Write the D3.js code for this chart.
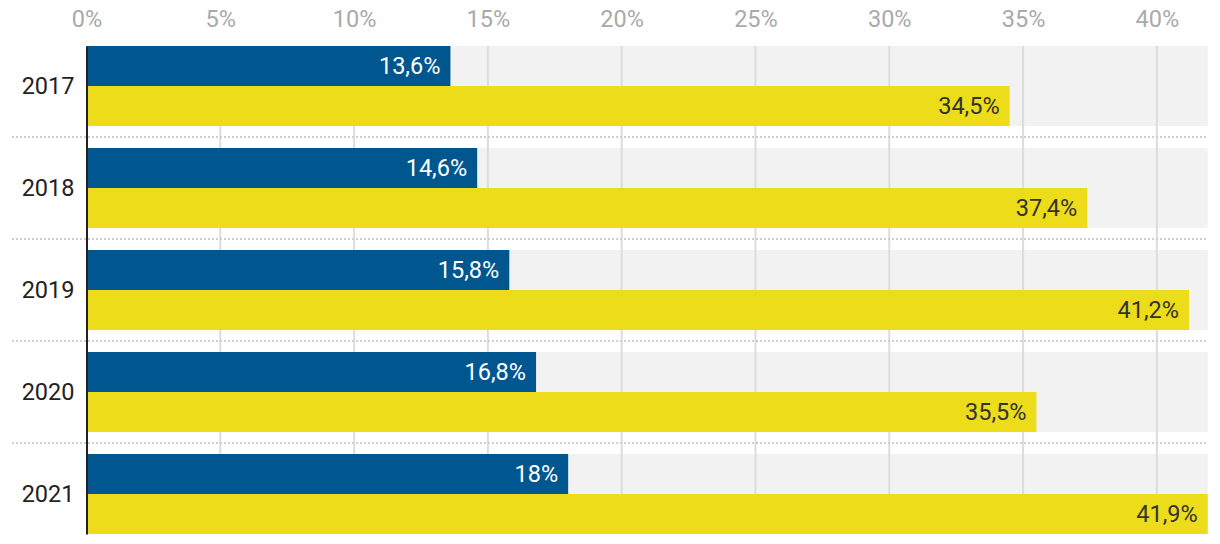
<!DOCTYPE html>
<html><head><meta charset="utf-8">
<script src="https://cdn.jsdelivr.net/npm/d3@7"></script>
<style>body{margin:0;background:#fff}svg{display:block}text{font-family:Roboto,sans-serif}</style>
</head><body>
<svg id="c" width="1220" height="544"></svg>
<script>
const years = ["2017","2018","2019","2020","2021"];
const seriesA = [13.6, 14.6, 15.8, 16.8, 18];
const seriesB = [34.5, 37.4, 41.2, 35.5, 41.9];
const ticks = [0,5,10,15,20,25,30,35,40];
const fmt = v => String(v).replace(".", ",") + "%";
const FS = 23.5;

const svg = d3.select("#c");
const x = d3.scaleLinear().domain([0, 41.9]).range([86.5, 1207.7]);
const y = d3.scaleBand().domain(years).range([46, 534]).paddingInner(22/102).paddingOuter(0);
const inner = d3.scaleBand().domain(["a","b"]).range([0, y.bandwidth()]);

svg.append("g").selectAll("rect").data(years).join("rect")
  .attr("x", x(0)).attr("y", d => y(d)).attr("width", x.range()[1]-x(0)).attr("height", y.bandwidth())
  .attr("fill", "#f2f2f2");

svg.append("g").selectAll("line").data(ticks.filter(t=>t>0)).join("line")
  .attr("x1", d => x(d)).attr("x2", d => x(d)).attr("y1", 46).attr("y2", 534)
  .attr("stroke", "#dcdcdc").attr("stroke-width", 2);

svg.append("g").selectAll("line").data(years.slice(1)).join("line")
  .attr("x1", 12).attr("x2", x.range()[1])
  .attr("y1", d => y(d) - y.step()*y.paddingInner()/2).attr("y2", d => y(d) - y.step()*y.paddingInner()/2)
  .attr("stroke", "#cfcfcf").attr("stroke-width", 2).attr("stroke-dasharray", "2,2");

const data = [];
years.forEach((yr,i) => {
  data.push({yr, k:"a", v: seriesA[i]});
  data.push({yr, k:"b", v: seriesB[i]});
});
const colors = {a:"#00568f", b:"#ecdc1a"};
const txtColors = {a:"#ffffff", b:"#333333"};

svg.append("g").selectAll("rect").data(data).join("rect")
  .attr("x", x(0)).attr("y", d => y(d.yr) + inner(d.k))
  .attr("width", d => x(d.v) - x(0)).attr("height", inner.bandwidth())
  .attr("fill", d => colors[d.k]);

svg.append("g").selectAll("text").data(data).join("text")
  .attr("x", d => x(d.v) - 10).attr("y", d => y(d.yr) + inner(d.k) + inner.bandwidth()/2)
  .attr("dy", "0.35em").attr("text-anchor", "end")
  .attr("font-size", FS).attr("fill", d => txtColors[d.k]).text(d => fmt(d.v));

const ax = svg.append("g").attr("transform", "translate(0,30)")
  .call(d3.axisTop(x).tickValues(ticks).tickFormat(d => d + "%").tickSize(0));
ax.select(".domain").remove();
ax.selectAll("text").attr("font-size", FS).attr("fill", "#aaaaaa").attr("font-family", "Roboto,sans-serif").attr("dy", 0);

const ay = svg.append("g").attr("transform", `translate(${x(0)},0)`)
  .call(d3.axisLeft(y).tickSize(0).tickPadding(12));
ay.select(".domain").attr("stroke", "#222").attr("stroke-width", 2);
ay.selectAll("text").attr("font-size", FS).attr("fill", "#222").attr("font-family", "Roboto,sans-serif");
</script>
</body></html>
